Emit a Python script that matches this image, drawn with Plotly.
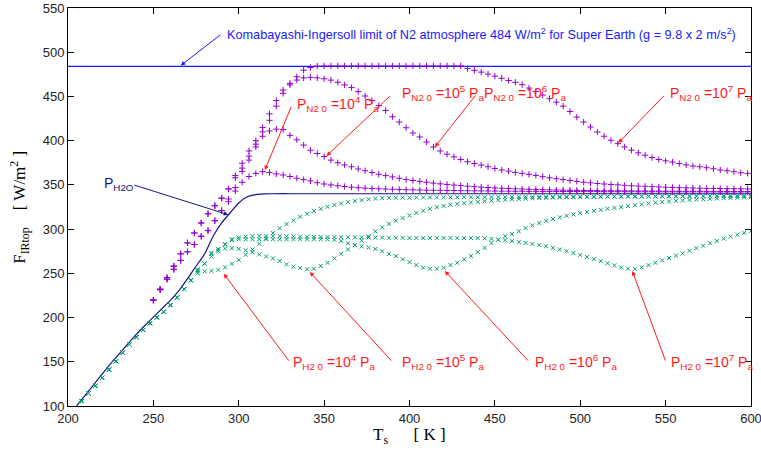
import plotly.graph_objects as go

# ---------------- data ----------------
T_purple = list(range(250, 599, 4))   # 250 .. 598 K
T_green = list(range(208, 601, 4))    # 208 .. 600 K

purple_low = [219.7, 231.5, 243.3, 254.5, 264.6, 274.3, 282.6, 291.9, 298.3, 309.5, 321.0]
purple_up = [219.7, 232.1, 245.1, 258.2, 272.1, 284.4, 295.6, 306.9, 317.4, 326.5, 335.0, 345.4]

pn2_1e4 = purple_low + [
    331, 343, 352.9, 359.5, 363, 365, 364, 362.5, 361.2, 359.5,
    357.5, 356, 354.5, 352.5, 351, 350, 349, 348.2, 347.4, 346.8,
    346.3, 345.9, 345.6, 345.3, 345, 344.8, 344.6, 344.4, 344.2, 344,
    343.9, 343.8, 343.7, 343.6, 343.5, 343.4, 343.3, 343.2, 343.1, 343,
    342.9, 342.9, 342.8, 342.8, 342.7, 342.7, 342.6, 342.6, 342.6, 342.5,
    342.5, 342.5, 342.4, 342.4, 342.4, 342.3, 342.3, 342.3, 342.3, 342.2,
    342.2, 342.2, 342.2, 342.2, 342.1, 342.1, 342.1, 342.1, 342.1, 342.1,
    342.0, 342.0, 342.0, 342.0, 342.0, 342.0, 342.0]

pn2_1e5 = purple_low + [
    334, 347, 365.2, 378, 392.9, 405, 411, 413, 412.5, 406,
    401, 395, 389.2, 385.5, 382, 378, 375, 372.5, 370.5, 368,
    366, 364, 362, 360.5, 359, 357.5, 356, 355, 354, 353,
    352, 351.2, 350.5, 349.8, 349.2, 348.6, 348, 347.5, 347, 346.6,
    346.2, 345.9, 345.6, 345.3, 345, 344.8, 344.6, 344.4, 344.2, 344,
    343.9, 343.8, 343.7, 343.6, 343.5, 343.4, 343.3, 343.3, 343.2, 343.2,
    343.1, 343.1, 343.0, 343.0, 342.9, 342.9, 342.9, 342.8, 342.8, 342.8,
    342.7, 342.7, 342.7, 342.6, 342.6, 342.6, 342.5]

pn2_1e6 = purple_up + [
    358, 369, 382.5, 396, 410, 423, 439, 453.5, 463, 468.5,
    471, 471.5, 471, 470, 468.5, 466, 463, 460, 455.5, 450.5,
    445.3, 439.7, 434.1, 427, 421, 414.6, 408.6, 404.2, 398.5, 392.9,
    388.4, 384.7, 381.7, 378.7, 376.1, 374.2, 372.4, 370.5, 368.6, 366.8,
    365.6, 364.1, 363, 361.9, 360.7, 359.3, 358, 357, 356, 355,
    354, 353, 352.3, 351.6, 351, 350.5, 350, 349.5, 349, 348.7,
    348.4, 348, 347.7, 347.4, 347.1, 346.9, 346.7, 346.5, 346.3, 346.1,
    346, 345.9, 345.8, 345.7, 345.6, 345.5]

pn2_1e7 = purple_up + [
    360.5, 374.5, 388.4, 400, 415, 430.3, 445.3, 457.3, 464.8, 472.3,
    479.7, 482.7, 484.3, 484.5, 484.5, 484.5, 484.5, 484.5, 484.5, 484.5,
    484.5, 484.5, 484.5, 484.5, 484.5, 484.5, 484.5, 484.5, 484.5, 484.5,
    484.5, 484.5, 484.5, 484.5, 481.5, 479.5, 477.5, 475.3, 473, 470.5,
    468, 466, 463.3, 459.5, 455.5, 451.5, 447.5, 443.5, 439, 433,
    426.6, 421, 415.4, 409.8, 405, 400.4, 396.6, 392.9, 389.2, 386.2,
    383.6, 380.9, 378.7, 377.2, 375.8, 374.2, 372.7, 371.3, 370.5, 369.4,
    368.2, 366.8, 366, 364.9, 363.7, 363]

green_low = [105.6, 114.2, 122.8, 131.8, 141.2, 150.5, 160.3, 169.6, 177.8, 186.0,
             193.5, 200.2, 206.6, 214.1, 222.7, 232.1, 242.2]

ph2o_1e4 = green_low + [
    250, 252.3, 252.8, 254, 256.7, 260.8, 265.3, 271, 277, 283.5,
    289.5, 295.5, 301, 305.7, 309.8, 314, 317.3, 320.5, 323, 325.3,
    327.3, 329, 330.4, 331.7, 332.8, 333.8, 334.5, 335, 335.3, 335.5,
    335.6, 335.6, 335.7, 335.7, 335.8, 335.8, 335.9, 335.9, 336.0, 336.0,
    336.0, 336.1, 336.1, 336.2, 336.2, 336.2, 336.3, 336.3, 336.4, 336.4,
    336.4, 336.5, 336.5, 336.6, 336.6, 336.6, 336.7, 336.7, 336.8, 336.8,
    336.8, 336.9, 336.9, 337.0, 337.0, 337.0, 337.1, 337.1, 337.1, 337.2,
    337.2, 337.2, 337.3, 337.3, 337.3, 337.3, 337.4, 337.4, 337.4, 337.4,
    337.5, 337.5]

ph2o_1e5 = green_low + [
    252, 261, 269, 275, 278, 278.5, 277.7, 276, 274, 271.4,
    269, 266.9, 263.9, 260.2, 257.5, 256, 254.5, 255.2, 258.2, 262,
    266.9, 272.1, 277, 281.8, 287, 292, 297.5, 302, 306, 309.5,
    312.5, 315.5, 318.3, 320.8, 322.9, 324.8, 326.2, 327.5, 328.5, 329.3,
    330.1, 330.8, 331.5, 332.1, 332.7, 333.2, 333.7, 334.1, 334.5, 334.8,
    335.1, 335.4, 335.6, 335.8, 336, 336.1, 336.2, 336.3, 336.4, 336.5,
    336.6, 336.7, 336.7, 336.8, 336.8, 336.9, 336.9, 337, 337, 337,
    337.1, 337.1, 337.1, 337.2, 337.2, 337.2, 337.3, 337.3, 337.3, 337.3,
    337.4, 337.4]

ph2o_1e6 = green_low + [
    253.5, 261, 272, 277, 282.6, 287.5, 288.5, 288.5, 288.5, 288.5,
    288.5, 288.5, 288.5, 288.5, 288.5, 288.5, 288.5, 288.5, 288.5, 288.3,
    287.8, 286.5, 284, 282, 280.5, 279.2, 277.5, 275, 272, 269.5,
    266, 262.7, 259.4, 256.4, 255.2, 255.2, 256.4, 259.4, 262, 265.8,
    269.5, 274, 278.8, 284.4, 288.2, 291.9, 294.5, 297.5, 301.2, 304.3,
    306.9, 309.5, 311.5, 313.3, 315, 316.6, 318, 319.3, 320.6, 321.8,
    323, 324, 325, 326, 327, 328, 329, 330, 330.7, 331.3,
    331.9, 332.4, 332.9, 333.4, 333.8, 334.2, 334.6, 335, 335.3, 335.6,
    335.9, 336.1]

ph2o_1e7 = green_low + [
    254.5, 261, 273, 277.5, 283, 288.5, 290.5, 291.5, 292, 292,
    292, 292, 292, 291.8, 291.7, 291.5, 291.4, 291.3, 291.2, 291.1,
    291, 290.9, 290.8, 290.7, 290.6, 290.5, 290.4, 290.3, 290.2, 290.2,
    290.1, 290, 290, 290, 290, 290, 290, 290, 290, 290,
    290, 289.8, 289.6, 289, 288, 287.3, 286.4, 285.5, 284.4, 283.3,
    281.9, 280.6, 278.8, 277, 275, 273, 270.7, 268.4, 266, 263.8,
    261.4, 259, 256.6, 255.3, 255, 256.8, 259.3, 262, 264.6, 267.3,
    270, 272.6, 275.5, 278.5, 281.3, 284, 286.6, 289.2, 291.6, 293.7,
    295.8, 298]

T_h2o_curve = [205, 210, 215, 220, 225, 230, 235, 240, 245, 250, 255, 260, 265, 270,
               275, 280, 285, 290, 295, 300, 305, 310, 315, 320, 330, 350, 400, 500, 600]
F_h2o_curve = [100, 112, 124, 136, 148, 159, 170, 181, 191, 200.5, 210, 219.7, 230.5, 244,
               258, 272, 292, 307, 318.5, 329.5, 336.5, 339, 339.8, 340, 340, 340, 340, 340, 340]

KI_limit = 484
T_limit_line = [200, 600]

x_ticks = [200, 250, 300, 350, 400, 450, 500, 550, 600]
y_ticks = [100, 150, 200, 250, 300, 350, 400, 450, 500, 550]

for s in (pn2_1e4, pn2_1e5, pn2_1e6, pn2_1e7):
    assert len(s) == len(T_purple), (len(s), len(T_purple))
for s in (ph2o_1e4, ph2o_1e5, ph2o_1e6, ph2o_1e7):
    assert len(s) == len(T_green), (len(s), len(T_green))

# ---------------- styles ----------------
PURPLE = "#9400d3"
GREEN = "#009e73"
NAVY = "#14148c"
BLUE = "#1a1aff"
RED = "#ff1a1a"
SANS = "Liberation Sans, Arial, sans-serif"
SERIF = "Liberation Serif, Times New Roman, serif"

fig = go.Figure()

fig.add_trace(go.Scatter(x=T_limit_line, y=[KI_limit, KI_limit], mode="lines",
                         line=dict(color=BLUE, width=1.2), hoverinfo="skip"))
fig.add_trace(go.Scatter(x=T_h2o_curve, y=F_h2o_curve, mode="lines",
                         line=dict(color=NAVY, width=1.2, shape="spline", smoothing=0.8),
                         hoverinfo="skip"))

for s in (ph2o_1e4, ph2o_1e5, ph2o_1e6, ph2o_1e7):
    fig.add_trace(go.Scatter(x=T_green, y=s, mode="markers",
                             marker=dict(symbol="x-thin", size=4,
                                         line=dict(color=GREEN, width=1), color=GREEN)))
for s in (pn2_1e4, pn2_1e5, pn2_1e6, pn2_1e7):
    fig.add_trace(go.Scatter(x=T_purple, y=s, mode="markers",
                             marker=dict(symbol="cross-thin", size=4.5,
                                         line=dict(color=PURPLE, width=1), color=PURPLE)))

annotations = []

def arrow(x, y, ax, ay, color):
    annotations.append(dict(x=x, y=y, ax=ax, ay=ay, xref="x", yref="y", axref="x", ayref="y",
                            text="", showarrow=True, arrowhead=2, arrowsize=0.9,
                            arrowwidth=1, arrowcolor=color, standoff=0, startstandoff=0))

def label(x, y, text, color, size=14):
    annotations.append(dict(x=x, y=y, xref="x", yref="y", text=text, showarrow=False,
                            xanchor="left", yanchor="middle",
                            font=dict(family=SANS, size=size, color=color)))

# KI limit
arrow(266, 485, 290.1, 520.9, BLUE)
label(292.0, 520.5, "Komabayashi-Ingersoll limit of N2 atmosphere 484 W/m<sup>2</sup> for Super Earth (g = 9.8 x 2 m/s<sup>2</sup>)", BLUE, 12.7)

# P_H2O curve
arrow(293.8, 316.3, 238, 350.3, NAVY)
label(220.2, 351, "P<sub>H2O</sub>", NAVY, 14)

# N2 labels
n2_labels = [(332.9, 331.1, 440.0, 315.3, 366.8, "4"),
             (394.4, 389.5, 452.1, 351.4, 382.8, "5"),
             (442.2, 439.3, 452.8, 414.9, 392.9, "6"),
             (551.4, 549.7, 452.1, 522.3, 397.4, "7")]
for tx, ax, ay, x, y, e in n2_labels:
    arrow(x, y, ax, ay, RED)
    label(tx, ay + 1.5, "P<sub>N2 0</sub> =10<sup>%s</sup> P<sub>a</sub>" % e, RED)

h2o_labels = [(330.6, 329.9, 149.7, 291.2, 249.6, "4"),
              (394.4, 390.1, 149.7, 341.6, 251.5, "5"),
              (472.1, 470.2, 149.7, 420.7, 252.6, "6"),
              (552.0, 550.2, 149.7, 530.5, 252.6, "7")]
for tx, ax, ay, x, y, e in h2o_labels:
    arrow(x, y, ax, ay, RED)
    label(tx, ay, "P<sub>H2 0</sub> =10<sup>%s</sup> P<sub>a</sub>" % e, RED)

# axis titles
annotations.append(dict(x=0.5, y=-0.075, xref="paper", yref="paper", showarrow=False,
                        xanchor="center", yanchor="middle",
                        text="T<sub>s</sub>\u00a0\u00a0\u00a0\u00a0\u00a0\u00a0[ K ]",
                        font=dict(family=SERIF, size=17, color="black")))
annotations.append(dict(x=-0.072, y=0.5, xref="paper", yref="paper", showarrow=False,
                        xanchor="center", yanchor="middle", textangle=-90,
                        text="F<sub>IRtop</sub>\u00a0\u00a0\u00a0\u00a0[ W/m<sup>2</sup> ]",
                        font=dict(family=SERIF, size=17, color="black")))

fig.update_layout(
    width=761, height=455,
    margin=dict(l=68, r=10, t=8, b=49, autoexpand=False),
    paper_bgcolor="white", plot_bgcolor="white",
    showlegend=False,
    annotations=annotations,
    font=dict(family=SANS, size=13, color="#222222"),
)
fig.update_xaxes(range=[200, 600], tickvals=x_ticks, ticklabeloverflow="allow", automargin=False,
                 ticks="inside", ticklen=6, tickcolor="black", showline=True, linecolor="black",
                 linewidth=1, mirror="ticks", showgrid=False, zeroline=False,
                 tickfont=dict(family=SANS, size=13, color="#222222"))
fig.update_yaxes(range=[100, 550], tickvals=y_ticks, ticklabeloverflow="allow", automargin=False,
                 ticks="inside", ticklen=6, tickcolor="black", showline=True, linecolor="black",
                 linewidth=1, mirror="ticks", showgrid=False, zeroline=False,
                 tickfont=dict(family=SANS, size=13, color="#222222"))

fig.write_html("out.html", config={"displayModeBar": False},
               post_script="document.body.style.margin='0px';")
